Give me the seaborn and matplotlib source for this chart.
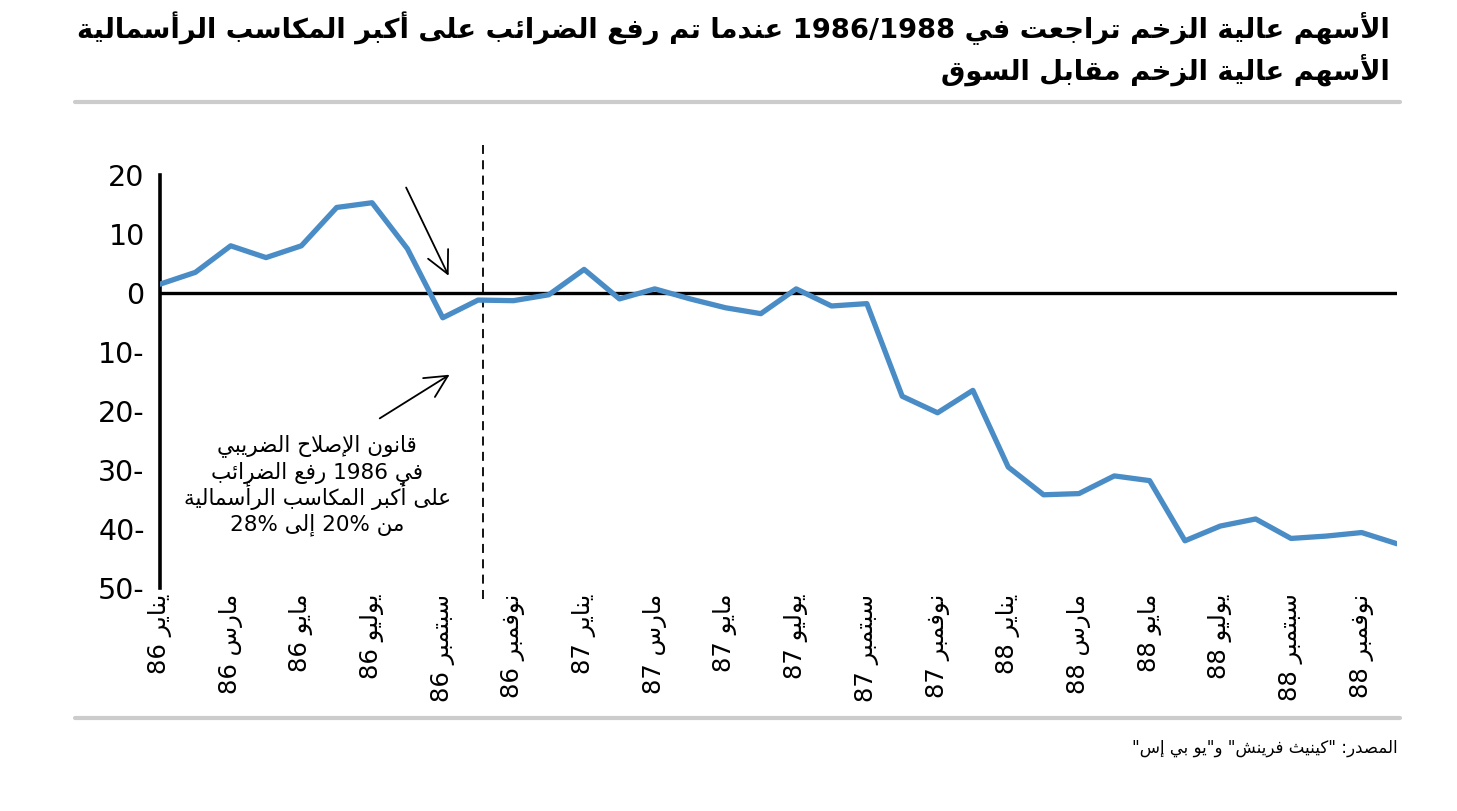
import re
import matplotlib
matplotlib.use('Agg')
import matplotlib.pyplot as plt
import pandas as pd
import seaborn as sns

# monthly values, Jan 1986 .. Dec 1988 (momentum stocks vs market, %)
months = list(range(36))
values = [1.5, 3.5, 8.0, 6.0, 8.0, 14.5, 15.3, 7.5, -4.2, -1.2,
          -1.3, -0.3, 4.0, -1.0, 0.7, -1.0, -2.5, -3.5, 0.7, -2.2,
          -1.8, -17.5, -20.3, -16.5, -29.5, -34.2, -34.0, -31.0, -31.8, -42.0,
          -39.5, -38.3, -41.6, -41.2, -40.6, -42.5]
month_names = ['يناير', 'مارس', 'مايو', 'يوليو', 'سبتمبر', 'نوفمبر']
years = ['86', '87', '88']
y_ticks = [20, 10, 0, -10, -20, -30, -40, -50]

title_1 = 'الأسهم عالية الزخم تراجعت في 1986/1988 عندما تم رفع الضرائب على أكبر المكاسب الرأسمالية'
title_2 = 'الأسهم عالية الزخم مقابل السوق'
note_lines = ['قانون الإصلاح الضريبي', 'في 1986 رفع الضرائب',
              'على أكبر المكاسب الرأسمالية', 'من 20% إلى 28%']
source = 'المصدر: "كينيث فرينش" و"يو بي إس"'

# --- minimal arabic shaping + rtl ordering (matplotlib 3.10 has no text shaping)
FORMS = {
    'ء': (0xFE80, 1), 'آ': (0xFE81, 2), 'أ': (0xFE83, 2), 'ؤ': (0xFE85, 2),
    'إ': (0xFE87, 2), 'ئ': (0xFE89, 4), 'ا': (0xFE8D, 2), 'ب': (0xFE8F, 4),
    'ة': (0xFE93, 2), 'ت': (0xFE95, 4), 'ث': (0xFE99, 4), 'ج': (0xFE9D, 4),
    'ح': (0xFEA1, 4), 'خ': (0xFEA5, 4), 'د': (0xFEA9, 2), 'ذ': (0xFEAB, 2),
    'ر': (0xFEAD, 2), 'ز': (0xFEAF, 2), 'س': (0xFEB1, 4), 'ش': (0xFEB5, 4),
    'ص': (0xFEB9, 4), 'ض': (0xFEBD, 4), 'ط': (0xFEC1, 4), 'ظ': (0xFEC5, 4),
    'ع': (0xFEC9, 4), 'غ': (0xFECD, 4), 'ف': (0xFED1, 4), 'ق': (0xFED5, 4),
    'ك': (0xFED9, 4), 'ل': (0xFEDD, 4), 'م': (0xFEE1, 4), 'ن': (0xFEE5, 4),
    'ه': (0xFEE9, 4), 'و': (0xFEED, 2), 'ى': (0xFEEF, 2), 'ي': (0xFEF1, 4),
}
LAM_ALEF = {'آ': 0xFEF5, 'أ': 0xFEF7, 'إ': 0xFEF9, 'ا': 0xFEFB}
NUM = r'\d+(?:[/.,]\d+)*%?'


def shape(text):
    units = []
    i = 0
    while i < len(text):
        if text[i] == 'ل' and i + 1 < len(text) and text[i + 1] in LAM_ALEF:
            units.append(('LA', text[i + 1]))
            i += 2
        else:
            units.append(('C', text[i]))
            i += 1

    def joins_next(u):
        return u[0] == 'C' and u[1] in FORMS and FORMS[u[1]][1] == 4

    def joins_prev(u):
        return u[0] == 'LA' or (u[1] in FORMS and FORMS[u[1]][1] >= 2)

    out = []
    for k, u in enumerate(units):
        p = k > 0 and joins_next(units[k - 1]) and joins_prev(u)
        n = k + 1 < len(units) and joins_next(u) and joins_prev(units[k + 1])
        if u[0] == 'LA':
            out.append(chr(LAM_ALEF[u[1]] + (1 if p else 0)))
        elif u[1] in FORMS:
            base, nf = FORMS[u[1]]
            if nf == 4:
                off = 3 if (p and n) else 2 if n else 1 if p else 0
            elif nf == 2:
                off = 1 if p else 0
            else:
                off = 0
            out.append(chr(base + off))
        else:
            out.append(u[1])
    return ''.join(out)


def ar(text):
    parts = re.split('(' + NUM + ')', shape(text))
    vis = [p if re.fullmatch(NUM, p) else p[::-1] for p in reversed(parts)]
    return ''.join(vis)


sns.set_style('white')
plt.rcParams['font.family'] = ['DejaVu Sans']
plt.rcParams['text.color'] = 'black'
plt.rcParams['xtick.color'] = 'black'
plt.rcParams['ytick.color'] = 'black'

df = pd.DataFrame({'month': months, 'value': values})
tick_pos = list(range(0, 36, 2))
tick_labels = [ar(f'{m} {y}') for y in years for m in month_names]

fig = plt.figure(figsize=(14.57, 8.11), dpi=100)
ax = fig.add_axes([160 / 1457, 1 - 588 / 811, (1397 - 160) / 1457, (588 - 175) / 811])

ax.axhline(0, color='black', lw=2.4, zorder=2)
sns.lineplot(data=df, x='month', y='value', ax=ax, color='#4a8cc6', lw=3.8, zorder=3)

# dashed marker for the 1986 tax reform
ax.plot([9.15, 9.15], [-51.8, 25.1], color='black', lw=1.3, ls=(0, (5, 3.5)), clip_on=False)

ax.set_xlim(0, 35)
ax.set_ylim(-50, 20)
ax.set_yticks(y_ticks)
ax.set_yticklabels([f'{v}' if v >= 0 else f'{-v}-' for v in y_ticks], fontsize=20.5)
ax.set_xticks(tick_pos)
ax.set_xticklabels(tick_labels, rotation=90, fontsize=17.5)
ax.tick_params(axis='y', length=8, width=2, direction='out', pad=3)
ax.tick_params(axis='x', length=0, pad=4)
ax.set_xlabel('')
ax.set_ylabel('')
for s in ['top', 'right', 'bottom']:
    ax.spines[s].set_visible(False)
ax.spines['left'].set_linewidth(2.6)
ax.spines['left'].set_color('black')

# annotation arrows + note
ax.annotate('', xy=(8.2, 2.5), xytext=(6.93, 18.3),
            arrowprops=dict(arrowstyle='->', color='black', lw=1.3, mutation_scale=40))
ax.annotate('', xy=(8.26, -13.6), xytext=(6.15, -21.5),
            arrowprops=dict(arrowstyle='->', color='black', lw=1.3, mutation_scale=40))
for line, yv in zip(note_lines, [-26.8, -31.4, -35.9, -40.3]):
    ax.text(4.45, yv, ar(line), ha='center', va='baseline', fontsize=15.5)

# titles, rules, source
fig.text(1390 / 1457, 1 - 28 / 811, ar(title_1), ha='right', va='center',
         fontsize=19.7, fontweight='bold')
fig.text(1390 / 1457, 1 - 70 / 811, ar(title_2), ha='right', va='center',
         fontsize=19.7, fontweight='bold')
fig.add_artist(plt.Line2D([75 / 1457, 1400 / 1457], [1 - 102 / 811] * 2, color='#cccccc', lw=3))
fig.add_artist(plt.Line2D([75 / 1457, 1400 / 1457], [1 - 718 / 811] * 2, color='#cccccc', lw=3))
fig.text(1398 / 1457, 1 - 748 / 811, ar(source), ha='right', va='center', fontsize=12)

fig.savefig('out.png', dpi=100)
